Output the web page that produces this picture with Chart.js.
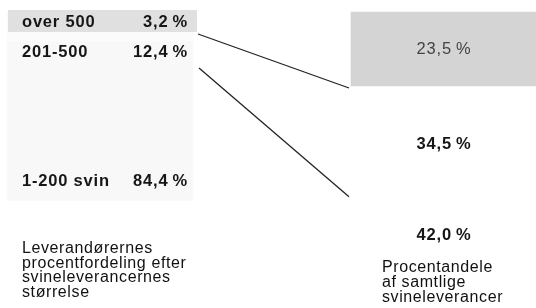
<!DOCTYPE html>
<html lang="da">
<head>
<meta charset="utf-8">
<title>Svineleverancer</title>
<script src="https://cdn.jsdelivr.net/npm/chart.js@4/dist/chart.umd.min.js"></script>
<style>
html, body { margin: 0; padding: 0; background: #fff; }
#diagram { display: block; }
</style>
</head>
<body>
<canvas id="diagram" width="536" height="308"></canvas>
<script>
// størrelsesgrupper (svin pr. leverance)
var grupper = ["over 500", "201-500", "1-200 svin"];
// leverandørernes procentfordeling
var leverandoerer = [3.2, 12.4, 84.4];
// procentandele af samtlige svineleverancer
var leverancer = [23.5, 34.5, 42.0];
var kolonner = ["Leverandører", "", "Leverancer"];
var tekstVenstre = ["Leverandørernes", "procentfordeling efter", "svineleverancernes", "størrelse"];
var tekstHoejre = ["Procentandele", "af samtlige", "svineleverancer"];

var farverVenstre = ["#fafafa", "#fbfbfb", "#f8f8f8"];
var farverHoejre = ["#d4d4d4", "#ffffff", "#ffffff"];

function pct(v) {
    return v.toFixed(1).replace(".", ",") + "\u2009%";
}

var datasaet = [];
for (var i = 0; i < grupper.length; i++) {
    datasaet.push({
        label: grupper[i] + " (leverandører)",
        data: [leverandoerer[i], null, null],
        yAxisID: "yL",
        backgroundColor: farverVenstre[i]
    });
}
for (var j = 0; j < grupper.length; j++) {
    datasaet.push({
        label: grupper[j] + " (leverancer)",
        data: [null, null, leverancer[j]],
        yAxisID: "y",
        backgroundColor: farverHoejre[j]
    });
}

// tekster, forbindelseslinjer og billedtekster
var tekster = {
    id: "tekster",
    afterDatasetsDraw: function (chart) {
        var ctx = chart.ctx;
        var n = grupper.length;
        ctx.save();

        // rasterbånd bag første række
        ctx.fillStyle = "#e0e0e0";
        ctx.fillRect(8, 10, 189, 22);

        // venstre rækker
        var raekkeY = [27, 57, 186];
        ctx.fillStyle = "#161616";
        ctx.font = "bold 16.5px 'Liberation Sans'";
        ctx.letterSpacing = "0.8px";
        ctx.textBaseline = "alphabetic";
        for (var i = 0; i < n; i++) {
            ctx.textAlign = "left";
            ctx.fillText(grupper[i], 22, raekkeY[i]);
            ctx.textAlign = "right";
            ctx.fillText(pct(leverandoerer[i]), 188, raekkeY[i]);
        }

        // højre søjle
        var bars = [];
        for (var k = 0; k < n; k++) {
            bars.push(chart.getDatasetMeta(n + k).data[2]);
        }
        ctx.textAlign = "center";
        ctx.textBaseline = "middle";
        for (var k2 = 0; k2 < n; k2++) {
            var b = bars[k2];
            var top = Math.min(b.y, b.base);
            var bund = Math.max(b.y, b.base);
            var y;
            if (k2 == 0) {
                ctx.font = "16.5px 'Liberation Sans'";
                ctx.fillStyle = "#444";
                y = (top + bund) / 2;
            } else if (k2 == 1) {
                ctx.font = "bold 16.5px 'Liberation Sans'";
                ctx.fillStyle = "#161616";
                y = (top + bund) / 2 + 4;
            } else {
                ctx.font = "bold 16.5px 'Liberation Sans'";
                ctx.fillStyle = "#161616";
                y = top + 41;
            }
            ctx.fillText(pct(leverancer[k2]), b.x, y);
        }

        // linjer fra venstre rækker til grænserne i højre søjle
        var start = [[198, 34], [199, 68]];
        ctx.strokeStyle = "#222";
        ctx.lineWidth = 1.3;
        for (var m = 0; m < 2; m++) {
            var bb = bars[m];
            var venstreKant = bb.x - bb.width / 2;
            ctx.beginPath();
            ctx.moveTo(start[m][0], start[m][1]);
            ctx.lineTo(venstreKant - 2, Math.max(bb.y, bb.base) + 2);
            ctx.stroke();
        }

        // billedtekster
        ctx.fillStyle = "#111";
        ctx.font = "16px 'Liberation Sans'";
        ctx.letterSpacing = "0.6px";
        ctx.textAlign = "left";
        ctx.textBaseline = "alphabetic";
        for (var t = 0; t < tekstVenstre.length; t++) {
            ctx.fillText(tekstVenstre[t], 22, 253 + t * 14.5);
        }
        for (var s = 0; s < tekstHoejre.length; s++) {
            ctx.fillText(tekstHoejre[s], 382, 272 + s * 15);
        }
        ctx.restore();
    }
};

var ctxD = document.getElementById("diagram").getContext("2d");
var diagram = new Chart(ctxD, {
    type: "bar",
    data: {
        labels: kolonner,
        datasets: datasaet
    },
    options: {
        responsive: false,
        animation: false,
        events: [],
        layout: {
            padding: { left: 14, right: 6, top: 12, bottom: 0 }
        },
        datasets: {
            bar: { barThickness: 186, clip: false, borderWidth: 0 }
        },
        plugins: {
            legend: { display: false },
            tooltip: { enabled: false }
        },
        scales: {
            x: { display: false, stacked: true, offset: true },
            y: { display: false, stacked: true, reverse: true, min: 0, max: 94 },
            yL: { display: false, stacked: true, reverse: true, min: 0, max: 157 }
        }
    },
    plugins: [tekster]
});
</script>
</body>
</html>
